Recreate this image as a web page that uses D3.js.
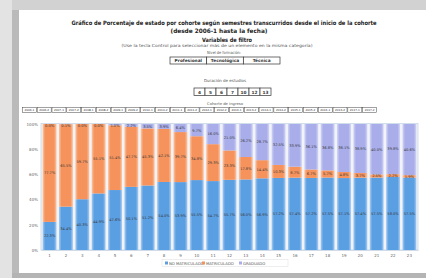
<!DOCTYPE html>
<html>
<head>
<meta charset="utf-8">
<script src="https://cdn.jsdelivr.net/npm/d3@7"></script>
<style>
html,body{margin:0;padding:0;background:#cfcfcf;overflow:hidden;}
svg{display:block;}
</style>
</head>
<body>
<svg id="c" width="426" height="278"></svg>
<script>
// ---- data ----
const semesters = ["1","2","3","4","5","6","7","8","9","10","11","12","13","14","15","16","17","18","19","20","21","22","23"];
const noMatriculado = [22.3,34.4,40.3,44.9,47.6,50.1,51.2,54.0,53.9,55.5,54.7,55.7,56.0,56.9,57.2,57.4,57.2,57.5,57.1,57.4,57.5,58.0,57.5];
const matriculado   = [77.7,65.5,59.7,55.1,51.4,47.7,45.3,42.1,39.7,34.8,29.3,23.3,17.8,14.4,10.3,8.7,6.7,5.7,4.8,3.7,2.5,2.2,1.9];
const graduado      = [0.0,0.1,0.0,0.0,1.0,2.2,3.5,3.9,6.4,9.7,16.0,21.0,26.2,28.7,32.5,33.9,36.1,36.8,38.1,38.9,40.0,39.8,40.6];
const seriesNames = ["NO MATRICULADO","MATRICULADO","GRADUADO"];
const yTicks = [0,20,40,60,80,100];
const nivelLabels = ["Profesional","Tecnológica","Técnica"];
const duracionLabels = ["4","5","6","7","10","12","13"];
const cohorteLabels = ["2006-1","2006-2","2007-1","2007-2","2008-1","2008-2","2009-1","2009-2","2010-1","2010-2","2011-1","2011-2","2012-1","2012-2","2013-1","2013-2","2014-1","2014-2","2015-1","2015-2","2016-1","2016-2","2017-1","2017-2"];
const titleLines = ["Gráfico de Porcentaje de estado por cohorte según semestres transcurridos desde el inicio de la cohorte","(desde 2006-1 hasta la fecha)"];

const colors = ["#5b9fe3","#f6935c","#a9aeea"];
const light  = ["#a9cdf2","#fbc7a6","#d3d6f6"];

const svg = d3.select("#c");
const FONT = "'DejaVu Sans', Verdana, sans-serif";

// ---- page frame ----
svg.append("rect").attr("x",0).attr("y",0).attr("width",426).attr("height",278).attr("fill","#d2d2d2");
svg.append("rect").attr("x",0).attr("y",0).attr("width",12).attr("height",278).attr("fill","#e3e3e3");
svg.append("rect").attr("x",12).attr("y",10).attr("width",7).attr("height",268).attr("fill","#bababa");
svg.append("rect").attr("x",19).attr("y",10).attr("width",407).attr("height",263).attr("fill","#ffffff");
svg.append("rect").attr("x",12).attr("y",273).attr("width",414).attr("height",5).attr("fill","#b4b4b4");

// ---- header texts ----
svg.append("text").attr("x",224).attr("y",25).attr("text-anchor","middle")
  .attr("font-family",FONT).attr("font-weight","bold").attr("font-size",6).attr("fill","#222")
  .attr("textLength",305).attr("lengthAdjust","spacingAndGlyphs").text(titleLines[0]);
svg.append("text").attr("x",219).attr("y",32.5).attr("text-anchor","middle")
  .attr("font-family",FONT).attr("font-weight","bold").attr("font-size",6).attr("fill","#222")
  .attr("textLength",97).attr("lengthAdjust","spacingAndGlyphs").text(titleLines[1]);
svg.append("text").attr("x",227).attr("y",42).attr("text-anchor","middle")
  .attr("font-family",FONT).attr("font-weight","bold").attr("font-size",6).attr("fill","#222")
  .attr("textLength",50).attr("lengthAdjust","spacingAndGlyphs").text("Variables de filtro");
svg.append("text").attr("x",217).attr("y",47).attr("text-anchor","middle")
  .attr("font-family",FONT).attr("font-size",4.2).attr("fill","#555")
  .attr("textLength",191).attr("lengthAdjust","spacingAndGlyphs")
  .text("(Use la tecla Control para seleccionar más de un elemento en la misma categoría)");
svg.append("text").attr("x",224).attr("y",53.5).attr("text-anchor","middle")
  .attr("font-family",FONT).attr("font-size",4).attr("fill","#555")
  .attr("textLength",34).attr("lengthAdjust","spacingAndGlyphs").text("Nivel de formación:");

// nivel buttons
const nivelX = d3.scaleBand().domain(nivelLabels).range([170,280]);
const gN = svg.append("g");
gN.selectAll("rect").data(nivelLabels).join("rect")
  .attr("x",d=>nivelX(d)).attr("y",57).attr("width",nivelX.bandwidth()).attr("height",7)
  .attr("fill","#fff").attr("stroke","#333").attr("stroke-width",0.7);
gN.selectAll("text").data(nivelLabels).join("text")
  .attr("x",d=>nivelX(d)+nivelX.bandwidth()/2).attr("y",62.3).attr("text-anchor","middle")
  .attr("font-family",FONT).attr("font-weight","bold").attr("font-size",4.3).attr("fill","#333").text(d=>d);

svg.append("text").attr("x",225).attr("y",81.5).attr("text-anchor","middle")
  .attr("font-family",FONT).attr("font-size",4).attr("fill","#555")
  .attr("textLength",42).attr("lengthAdjust","spacingAndGlyphs").text("Duración de estudios");

const durX = d3.scaleBand().domain(duracionLabels).range([194,271]);
const gD = svg.append("g");
gD.selectAll("rect").data(duracionLabels).join("rect")
  .attr("x",d=>durX(d)).attr("y",88).attr("width",durX.bandwidth()).attr("height",7.5)
  .attr("fill","#fff").attr("stroke","#333").attr("stroke-width",0.7);
gD.selectAll("text").data(duracionLabels).join("text")
  .attr("x",d=>durX(d)+durX.bandwidth()/2).attr("y",93.6).attr("text-anchor","middle")
  .attr("font-family",FONT).attr("font-weight","bold").attr("font-size",4.3).attr("fill","#333").text(d=>d);

svg.append("text").attr("x",225).attr("y",105).attr("text-anchor","middle")
  .attr("font-family",FONT).attr("font-size",3.8).attr("fill","#555")
  .attr("textLength",36).attr("lengthAdjust","spacingAndGlyphs").text("Cohorte de ingreso");

const cohX = d3.scaleBand().domain(cohorteLabels).range([22,377]);
const gC = svg.append("g");
gC.selectAll("rect").data(cohorteLabels).join("rect")
  .attr("x",d=>cohX(d)+0.4).attr("y",107.5).attr("width",cohX.bandwidth()-0.8).attr("height",5)
  .attr("fill","#fff").attr("stroke","#444").attr("stroke-width",0.5);
gC.selectAll("text").data(cohorteLabels).join("text")
  .attr("x",d=>cohX(d)+cohX.bandwidth()/2).attr("y",111.2).attr("text-anchor","middle")
  .attr("font-family",FONT).attr("font-size",2.8).attr("fill","#333").text(d=>d);

// ---- chart ----
const x = d3.scaleBand().domain(semesters).range([41,418]).paddingInner(0.15).paddingOuter(0.1);
const y = d3.scaleLinear().domain([0,100]).range([250,124]);

const defs = svg.append("defs");
colors.forEach((c,i)=>{
  const g = defs.append("linearGradient").attr("id","g"+i).attr("x1","0").attr("x2","1").attr("y1","0").attr("y2","0");
  g.append("stop").attr("offset","0%").attr("stop-color",light[i]);
  g.append("stop").attr("offset","18%").attr("stop-color",c);
  g.append("stop").attr("offset","82%").attr("stop-color",c);
  g.append("stop").attr("offset","100%").attr("stop-color",light[i]);
});

// plot background and frame
svg.append("rect").attr("x",41).attr("y",123.5).attr("width",377).attr("height",126.5)
  .attr("fill","#f1f3f6").attr("stroke","#c8d6e6").attr("stroke-width",0.8);

const rows = semesters.map((s,i)=>({sem:s, a:noMatriculado[i], b:matriculado[i], c:graduado[i]}));
const stack = d3.stack().keys(["a","b","c"]);
const stacked = stack(rows);

const gBars = svg.append("g");
stacked.forEach((layer,li)=>{
  gBars.append("g").selectAll("rect").data(layer).join("rect")
    .attr("x",d=>x(d.data.sem)).attr("width",x.bandwidth())
    .attr("y",d=>y(d[1])).attr("height",d=>y(d[0])-y(d[1]))
    .attr("fill","url(#g"+li+")");
});
// labels
stacked.forEach((layer,li)=>{
  gBars.append("g").selectAll("text").data(layer).join("text")
    .attr("x",d=>x(d.data.sem)+x.bandwidth()/2)
    .attr("y",d=>{ const m=(y(d[0])+y(d[1]))/2; return Math.max(m, 125.5)+1.4; })
    .attr("text-anchor","middle").attr("font-family",FONT).attr("font-size",3.6).attr("fill","#3a3a3a")
    .text(d=>(d[1]-d[0]).toFixed(1)+"%");
});

// y axis
const yAxis = d3.axisLeft(y).tickValues(yTicks).tickFormat(d=>d+"%").tickSize(0).tickPadding(3);
const gy = svg.append("g").attr("transform","translate(41,0)").call(yAxis);
gy.select(".domain").remove();
gy.selectAll("text").attr("font-family",FONT).attr("font-size",4).attr("fill","#666");

// x axis
const xAxis = d3.axisBottom(x).tickSize(0).tickPadding(4);
const gx = svg.append("g").attr("transform","translate(0,250)").call(xAxis);
gx.select(".domain").attr("stroke","#c8d6e6").attr("stroke-width",0.8);
gx.selectAll("text").attr("font-family",FONT).attr("font-size",4).attr("fill","#666");

// legend
const legX = [165,202,239];
const gL = svg.append("g");
gL.append("rect").attr("x",162).attr("y",259.5).attr("width",126).attr("height",7).attr("fill","none").attr("stroke","#e3e3e3").attr("stroke-width",0.6);
seriesNames.forEach((n,i)=>{
  gL.append("rect").attr("x",legX[i]).attr("y",261.5).attr("width",3).attr("height",3).attr("fill",colors[i]);
  gL.append("text").attr("x",legX[i]+4).attr("y",264.6).attr("font-family",FONT).attr("font-size",3.8).attr("fill","#555").text(n);
});
</script>
</body>
</html>
